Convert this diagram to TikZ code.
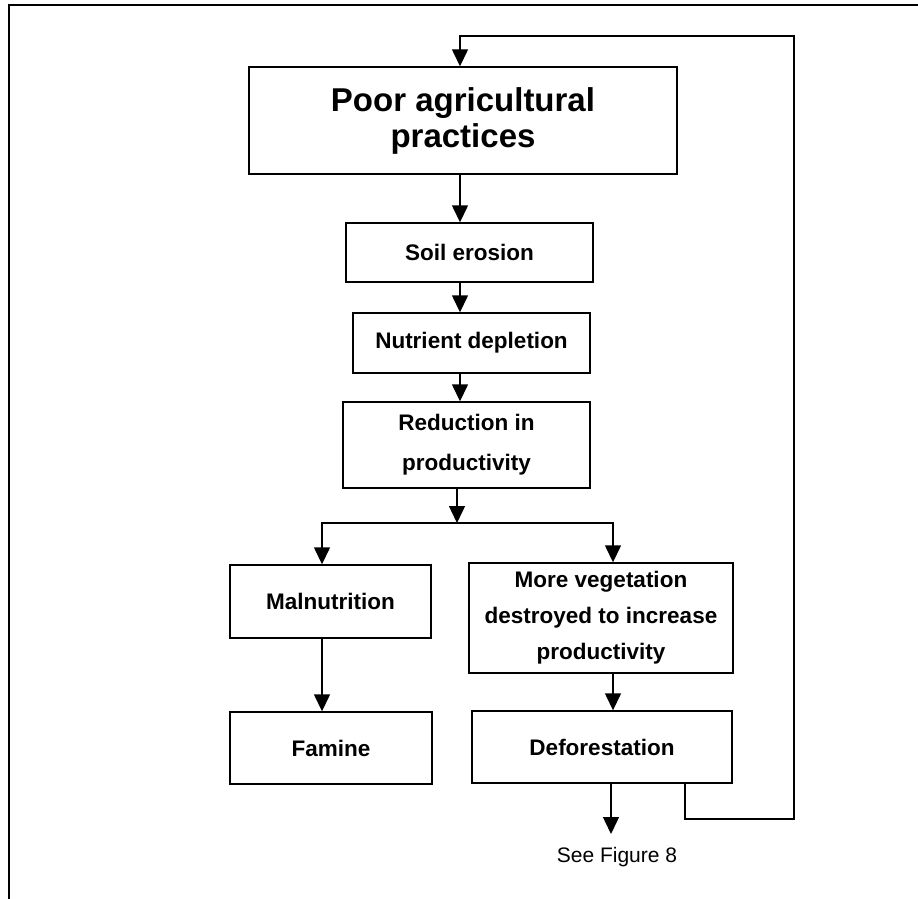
\documentclass[tikz,border=0pt]{standalone}
\usepackage{fontspec}
\setmainfont{Liberation Sans}
\usetikzlibrary{arrows.meta}
\tikzset{
  box/.style={draw, line width=1.4pt, align=center, inner sep=0pt,
    font=\bfseries\fontsize{22.5}{36}\selectfont},
  arr/.style={line width=1.4pt, -{Triangle[length=17pt,width=16pt]}}
}
\begin{document}
\begin{tikzpicture}[x=1pt, y=-1pt]
        \useasboundingbox (0,0) rectangle (918,899);
        % Frame (top and left edges only)
        \draw[line width=1.6pt] (9,899) -- (9,5) -- (918,5);

        % Boxes
        \node[box, minimum width=428pt, minimum height=107pt,
              font=\bfseries\fontsize{33}{36}\selectfont] (poor) at (463,120.5)
              {Poor agricultural\\practices};
        \node[box, minimum width=247pt, minimum height=59pt] (soil) at (469.5,252.5) {Soil erosion};
        \node[box, minimum width=237pt, minimum height=60pt] (nutr) at (471.5,343) {Nutrient depletion};
        \node[box, minimum width=247pt, minimum height=86pt,
              font=\bfseries\fontsize{22.5}{40}\selectfont] (reduc) at (466.5,445)
              {Reduction in\\productivity};
        \node[box, minimum width=201pt, minimum height=73pt] (maln) at (330.5,601.5) {Malnutrition};
        \node[box, minimum width=264pt, minimum height=110pt] (veg) at (601,618)
              {More vegetation\\destroyed to increase\\productivity};
        \node[box, minimum width=202pt, minimum height=72pt] (famine) at (331,748) {Famine};
        \node[box, minimum width=260pt, minimum height=72pt] (defor) at (602,747) {Deforestation};
        \node[font=\fontsize{21}{24}\selectfont] (see) at (617,857) {See Figure 8};

        % Arrow lines
        \coordinate (spine) at (460,0);
        \coordinate (split) at (457,523);
        \coordinate (lft) at (322,523);
        \coordinate (rgt) at (613,523);
        \coordinate (out) at (611,834);
        \coordinate (back) at (685,819);
        \coordinate (loopbr) at (794,819);
        \coordinate (looptr) at (794,36);
        \coordinate (looptl) at (460,36);

        \draw[arr] (spine |- poor.south) -- (spine |- soil.north);
        \draw[arr] (spine |- soil.south) -- (spine |- nutr.north);
        \draw[arr] (spine |- nutr.south) -- (spine |- reduc.north);
        \draw[arr] (split |- reduc.south) -- (split);
        \draw[arr] (split) -- (lft) -- (lft |- maln.north);
        \draw[arr] (split) -- (rgt) -- (rgt |- veg.north);
        \draw[arr] (lft |- maln.south) -- (lft |- famine.north);
        \draw[arr] (rgt |- veg.south) -- (rgt |- defor.north);
        \draw[arr] (out |- defor.south) -- (out);

        % Feedback loop back to the top
        \draw[arr] (back |- defor.south) -- (back) -- (loopbr) -- (looptr) -- (looptl) -- (looptl |- poor.north);
    \end{tikzpicture}
\end{document}
